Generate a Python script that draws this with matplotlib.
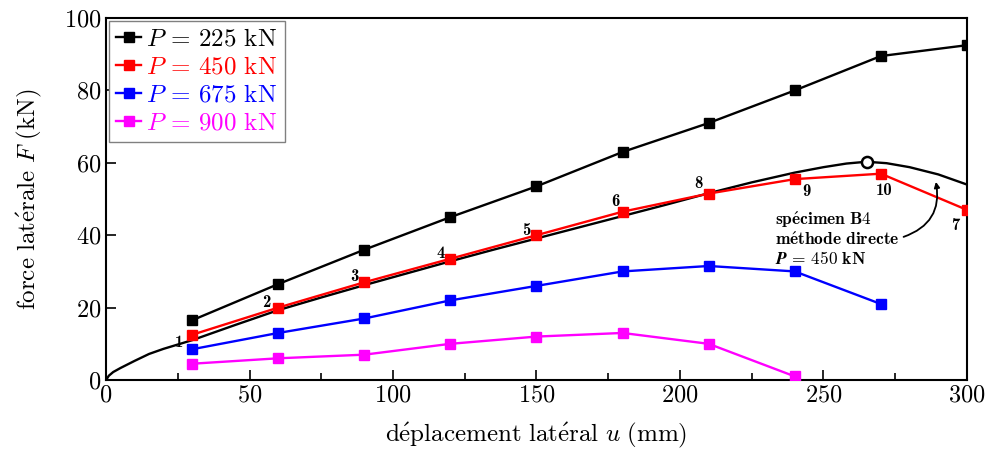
import matplotlib
matplotlib.use('Agg')
import matplotlib.pyplot as plt
from matplotlib.ticker import MultipleLocator

plt.rcParams['font.family'] = ['cmr10', 'DejaVu Serif']
plt.rcParams['mathtext.fontset'] = 'cm'
plt.rcParams['axes.formatter.use_mathtext'] = True

# essais, P constant
u = [30, 60, 90, 120, 150, 180, 210, 240, 270, 300]
F_225 = [16.5, 26.5, 36, 45, 53.5, 63, 71, 80, 89.5, 92.5]
F_450 = [12.5, 20, 27, 33.5, 40, 46.5, 51.5, 55.5, 57, 47]
u_675 = [30, 60, 90, 120, 150, 180, 210, 240, 270]
F_675 = [8.5, 13, 17, 22, 26, 30, 31.5, 30, 21]
u_900 = [30, 60, 90, 120, 150, 180, 210, 240]
F_900 = [4.5, 6, 7, 10, 12, 13, 10, 1]

# courbe du specimen B4 (methode directe)
u_b4 = [0, 1, 2.5, 5, 10, 15, 20, 25, 30, 45, 60, 75, 90, 105, 120, 135, 150,
        165, 180, 195, 210, 225, 240, 250, 258, 265, 272, 280, 290, 300]
F_b4 = [0, 1.2, 2.2, 3.3, 5.3, 7.2, 8.6, 9.8, 11, 15.2, 19.3, 22.8, 26.2, 29.5,
        32.8, 36, 39.1, 42.2, 45.3, 48.4, 51.6, 54.6, 57.3, 58.8, 59.8, 60.3,
        59.9, 58.8, 56.8, 54]
u_peak, F_peak = 265, 60.3

# numeros des points
num_lab = ['1', '2', '3', '4', '5', '6', '8', '9', '10', '7']
num_u = [25.5, 56, 86.5, 116.5, 146.5, 177.5, 206.5, 244, 271, 296]
num_F = [10.5, 21.3, 28.7, 35, 41.4, 49.4, 54.4, 52, 52.3, 42.8]

# texte de l'annotation
note_lines = [r'$\mathbf{sp\acute{e}cimen\ B4}$',
              r'$\mathbf{m\acute{e}thode\ directe}$',
              r'$\boldsymbol{P}\,\mathbf{=\,450\ kN}$']
note_F = [42.8, 37.3, 32.0]

fig = plt.figure(figsize=(9.88, 4.51), dpi=100)
ax = fig.add_axes([0.1073, 0.1574, 0.8714, 0.8026])

ax.plot(u_b4, F_b4, color='black', lw=1.7, zorder=2)
ax.plot(u_peak, F_peak, 'o', mfc='white', mec='black', mew=1.8, ms=8, zorder=5)

ms = 6.5
ax.plot(u, F_225, '-s', color='black', lw=1.7, ms=ms, label='$P$ = 225 kN', zorder=3)
ax.plot(u, F_450, '-s', color='red', lw=1.7, ms=ms, label='$P$ = 450 kN', zorder=3)
ax.plot(u_675, F_675, '-s', color='blue', lw=1.7, ms=ms, label='$P$ = 675 kN', zorder=3)
ax.plot(u_900, F_900, '-s', color='magenta', lw=1.7, ms=ms, label='$P$ = 900 kN', zorder=3)

for t, x, y in zip(num_lab, num_u, num_F):
    ax.text(x, y, t, fontsize=12, family='cmb10', ha='center', va='center')

for t, y in zip(note_lines, note_F):
    ax.text(233, y, t, fontsize=12.5, ha='left', va='baseline')
ax.annotate('', xy=(289, 55.5), xytext=(277, 39.3),
            arrowprops=dict(arrowstyle='-|>', color='black', lw=1.3,
                            connectionstyle='arc3,rad=0.45', mutation_scale=8))

ax.set_xlim(0, 300)
ax.set_ylim(0, 100)
ax.xaxis.set_major_locator(MultipleLocator(50))
ax.xaxis.set_minor_locator(MultipleLocator(25))
ax.yaxis.set_major_locator(MultipleLocator(20))
ax.tick_params(direction='in', labelsize=17.5, length=7, width=1.2)
ax.tick_params(which='minor', direction='in', length=5, width=1.2)
for s in ax.spines.values():
    s.set_linewidth(1.5)

ax.set_xlabel(r'$\mathrm{d\acute{e}placement\ lat\acute{e}ral}\ u\ \mathrm{(mm)}$',
              fontsize=18, labelpad=10)
ax.set_ylabel(r'$\mathrm{force\ lat\acute{e}rale}\ F\ \mathrm{(kN)}$',
              fontsize=18, labelpad=14)

leg = ax.legend(loc='upper left', fontsize=18, handlelength=1.0, handletextpad=0.2,
                borderaxespad=0.1, borderpad=0.3, labelspacing=0.22,
                fancybox=False, edgecolor='gray', framealpha=1)
for txt, ln in zip(leg.get_texts(), leg.get_lines()):
    txt.set_color(ln.get_color())

fig.savefig('out.png', dpi=100)
